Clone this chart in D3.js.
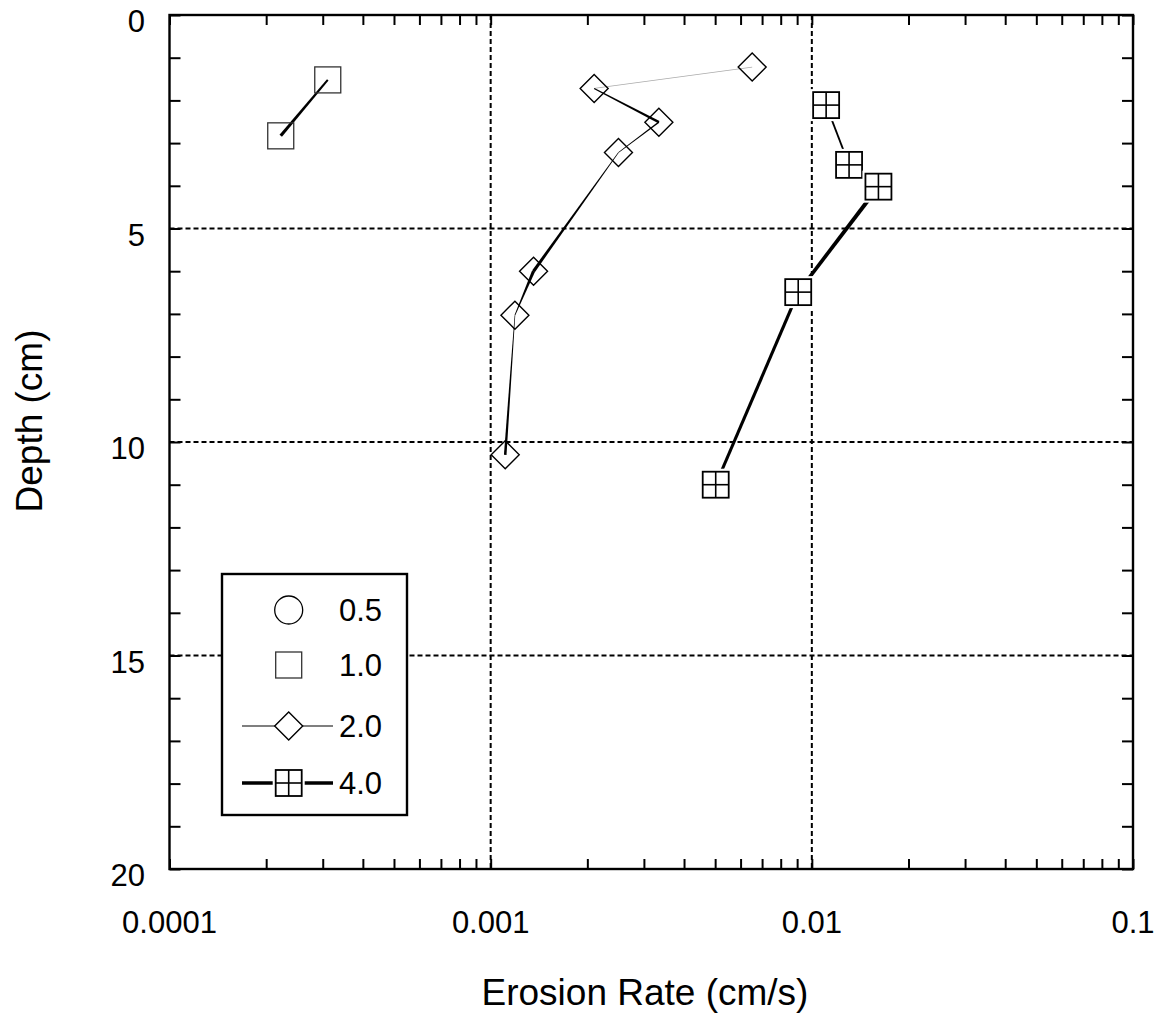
<!DOCTYPE html>
<html>
<head>
<meta charset="utf-8">
<script src="https://cdn.jsdelivr.net/npm/d3@7"></script>
<style>
  body { margin: 0; background: #fff; }
  svg { display: block; }
  text { font-family: "Liberation Sans", Arial, Helvetica, sans-serif; fill: #000; }
</style>
</head>
<body>
<svg id="chart" width="1162" height="1020"></svg>
<script>
// ---------------- data ----------------
const seriesNames = ["0.5", "1.0", "2.0", "4.0"];
// series 0.5 : no data points visible
const rate05 = [];
const depth05 = [];
// series 1.0
const rate10 = [0.000311, 0.000222];
const depth10 = [1.52, 2.83];
// series 2.0
const rate20 = [0.00652, 0.00210, 0.00334, 0.00250, 0.00136, 0.00119, 0.00111];
const depth20 = [1.22, 1.72, 2.51, 3.22, 6.0, 7.03, 10.30];
// series 4.0
const rate40 = [0.01108, 0.01306, 0.01612, 0.00907, 0.00502];
const depth40 = [2.11, 3.51, 4.02, 6.49, 11.0];

const xTickValues = [0.0001, 0.001, 0.01, 0.1];
const xTickLabels = ["0.0001", "0.001", "0.01", "0.1"];
const yTickValues = [0, 5, 10, 15, 20];
const yTickLabels = ["0", "5", "10", "15", "20"];
const xTitle = "Erosion Rate (cm/s)";
const yTitle = "Depth (cm)";

// ---------------- styles (per-segment line widths: start, end) ----------------
const segWidths10 = [[2.0, 3.2]];
const segWidths20 = [[0.8, 0.8], [1.2, 2.6], [1.4, 0.8], [0.6, 3.2], [3.2, 0.8], [0.6, 2.6]];
const segColors20 = ["#aaa", "#000", "#000", "#000", "#000", "#000"];
const segWidths40 = [[1.8, 1.8], [2, 2], [4.2, 3.4], [3.2, 3.0]];

// ---------------- layout ----------------
const L = 169.5, R = 1133, T = 15, B = 869;
const svg = d3.select("#chart");
const x = d3.scaleLog().domain([0.0001, 0.1]).range([L, R]);
const y = d3.scaleLinear().domain([0, 20]).range([T, B]);

// grid (dashed)
const grid = svg.append("g").attr("stroke", "#000").attr("stroke-width", 2)
  .attr("stroke-dasharray", "5,3").attr("fill", "none");
[0.001, 0.01].forEach(v => grid.append("line")
  .attr("x1", x(v)).attr("x2", x(v)).attr("y1", T).attr("y2", B));
[5, 10, 15].forEach(v => grid.append("line")
  .attr("x1", L).attr("x2", R).attr("y1", y(v)).attr("y2", y(v)));

// frame
svg.append("rect").attr("x", L).attr("y", T).attr("width", R - L).attr("height", B - T)
  .attr("fill", "none").attr("stroke", "#000").attr("stroke-width", 2.4);

// minor / major ticks (inward) via d3 axes
const xMinor = [];
for (let e = -4; e < -1; e++) for (let m = 1; m <= 9; m++) xMinor.push(m * Math.pow(10, e));
xMinor.push(0.1);
const yMinor = d3.range(0, 21, 1);

const axB = svg.append("g").attr("transform", `translate(0,${B})`)
  .call(d3.axisTop(x).tickValues(xMinor).tickSize(10).tickFormat(""));
const axT = svg.append("g").attr("transform", `translate(0,${T})`)
  .call(d3.axisBottom(x).tickValues(xMinor).tickSize(10).tickFormat(""));
const axL = svg.append("g").attr("transform", `translate(${L},0)`)
  .call(d3.axisRight(y).tickValues(yMinor).tickSize(11).tickFormat(""));
const axR = svg.append("g").attr("transform", `translate(${R},0)`)
  .call(d3.axisLeft(y).tickValues(yMinor).tickSize(11).tickFormat(""));
[axB, axT, axL, axR].forEach(g => {
  g.select(".domain").remove();
  g.selectAll(".tick line").attr("stroke", "#000").attr("stroke-width", 2);
});

// tick labels
svg.append("g").selectAll("text").data(xTickValues).join("text")
  .attr("x", d => x(d)).attr("y", 933)
  .attr("text-anchor", "middle").attr("font-size", 31)
  .text((d, i) => xTickLabels[i]);
svg.append("g").selectAll("text").data(yTickValues).join("text")
  .attr("x", 145).attr("y", d => y(d) + 17)
  .attr("text-anchor", "end").attr("font-size", 31)
  .text((d, i) => yTickLabels[i]);

// axis titles
svg.append("text").attr("x", 645).attr("y", 1005)
  .attr("text-anchor", "middle").attr("font-size", 37).text(xTitle);
svg.append("text").attr("transform", `translate(42,421) rotate(-90)`)
  .attr("text-anchor", "middle").attr("font-size", 37).text(yTitle);

// ---------------- series drawing ----------------
function taperSeg(g, p0, p1, w0, w1, color) {
  const dx = p1[0] - p0[0], dy = p1[1] - p0[1];
  const len = Math.hypot(dx, dy) || 1;
  const nx = -dy / len, ny = dx / len;
  const pts = [
    [p0[0] + nx * w0 / 2, p0[1] + ny * w0 / 2],
    [p1[0] + nx * w1 / 2, p1[1] + ny * w1 / 2],
    [p1[0] - nx * w1 / 2, p1[1] - ny * w1 / 2],
    [p0[0] - nx * w0 / 2, p0[1] - ny * w0 / 2]
  ];
  g.append("path").attr("d", d3.line()(pts) + "Z").attr("fill", color).attr("stroke", "none");
}
function drawLine(g, rates, depths, widths, colors) {
  const pts = rates.map((r, i) => [x(r), y(depths[i])]);
  for (let i = 0; i < pts.length - 1; i++) {
    taperSeg(g, pts[i], pts[i + 1], widths[i][0], widths[i][1], colors ? colors[i] : "#000");
  }
}
const S = 13; // marker half-size

function square(g, cx, cy, opts) {
  g.append("rect").attr("x", cx - S).attr("y", cy - S).attr("width", 2 * S).attr("height", 2 * S)
    .attr("fill", opts.fill).attr("stroke", opts.stroke).attr("stroke-width", opts.sw);
}
function diamond(g, cx, cy) {
  g.append("path").attr("d", `M${cx},${cy - S - 1}L${cx + S + 1},${cy}L${cx},${cy + S + 1}L${cx - S - 1},${cy}Z`)
    .attr("fill", "none").attr("stroke", "#000").attr("stroke-width", 1.4);
}
function gridSquare(g, cx, cy) {
  g.append("rect").attr("x", cx - S - 3).attr("y", cy - S - 3).attr("width", 2 * S + 6).attr("height", 2 * S + 6)
    .attr("fill", "#fff");
  g.append("rect").attr("x", cx - S).attr("y", cy - S).attr("width", 2 * S).attr("height", 2 * S)
    .attr("fill", "#fff").attr("stroke", "#000").attr("stroke-width", 1.8);
  g.append("line").attr("x1", cx).attr("x2", cx).attr("y1", cy - S).attr("y2", cy + S)
    .attr("stroke", "#000").attr("stroke-width", 1.6);
  g.append("line").attr("x1", cx - S).attr("x2", cx + S).attr("y1", cy).attr("y2", cy)
    .attr("stroke", "#000").attr("stroke-width", 1.6);
}

const plot = svg.append("g");
// series 1.0
drawLine(plot, rate10, depth10, segWidths10);
rate10.forEach((r, i) => square(plot, x(r), y(depth10[i]), { fill: "none", stroke: "#333", sw: 1.3 }));
// series 2.0
drawLine(plot, rate20, depth20, segWidths20, segColors20);
rate20.forEach((r, i) => diamond(plot, x(r), y(depth20[i])));
// series 4.0
drawLine(plot, rate40, depth40, segWidths40);
rate40.forEach((r, i) => gridSquare(plot, x(r), y(depth40[i])));

// ---------------- legend ----------------
const lg = svg.append("g");
lg.append("rect").attr("x", 222).attr("y", 574).attr("width", 185).attr("height", 241)
  .attr("fill", "#fff").attr("stroke", "#000").attr("stroke-width", 2.4);
const legY = [610, 665, 726, 783];
const symX = 288.7;
lg.append("circle").attr("cx", symX).attr("cy", legY[0]).attr("r", 14)
  .attr("fill", "none").attr("stroke", "#000").attr("stroke-width", 1.3);
square(lg, symX, legY[1], { fill: "none", stroke: "#333", sw: 1.3 });
lg.append("line").attr("x1", 242).attr("x2", 333).attr("y1", legY[2]).attr("y2", legY[2])
  .attr("stroke", "#000").attr("stroke-width", 1.2);
lg.append("path").attr("d", `M${symX},${legY[2] - 14}L${symX + 14},${legY[2]}L${symX},${legY[2] + 14}L${symX - 14},${legY[2]}Z`)
  .attr("fill", "#fff").attr("stroke", "#000").attr("stroke-width", 1.4);
lg.append("line").attr("x1", 242).attr("x2", 333).attr("y1", legY[3]).attr("y2", legY[3])
  .attr("stroke", "#000").attr("stroke-width", 3.6);
gridSquare(lg, symX, legY[3]);
lg.selectAll("text.lab").data(seriesNames).join("text").attr("class", "lab")
  .attr("x", 339).attr("y", (d, i) => legY[i] + 11)
  .attr("font-size", 31).text(d => d);
</script>
</body>
</html>
